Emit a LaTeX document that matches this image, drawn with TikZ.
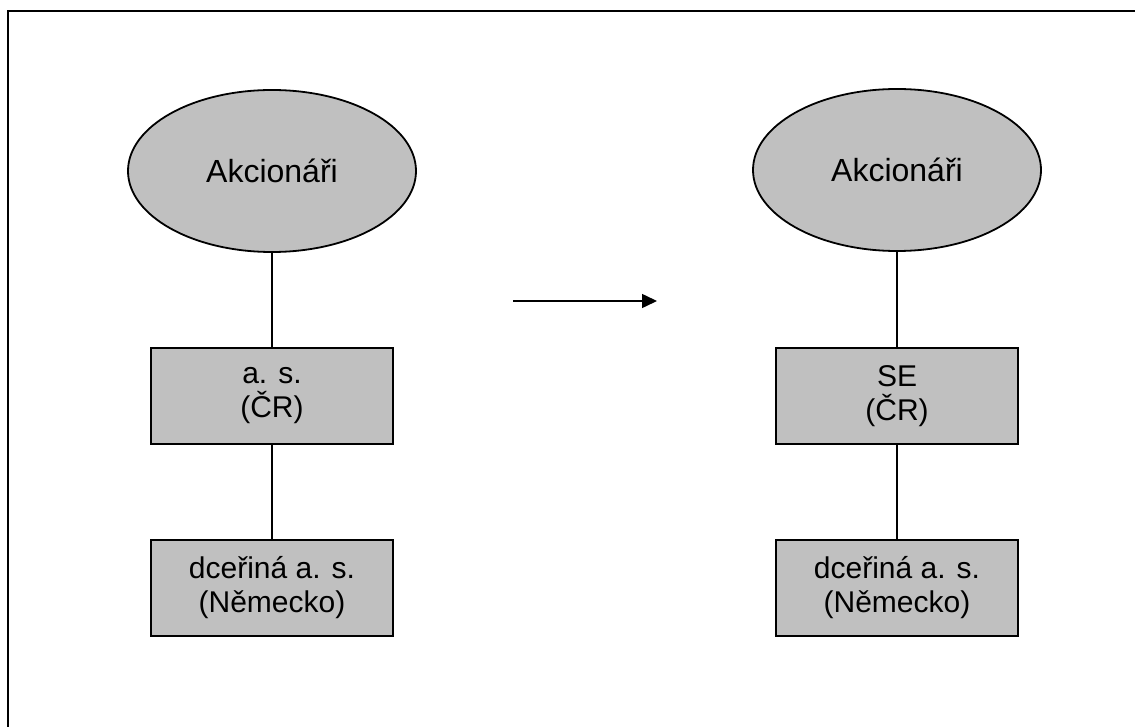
\documentclass[tikz,border=0pt]{standalone}
\usepackage{fontspec}
\setmainfont{Liberation Sans}
\usetikzlibrary{shapes.geometric,arrows.meta}
\definecolor{boxgray}{RGB}{192,192,192}
\tikzset{
    owner/.style={ellipse, draw, fill=boxgray, line width=0.9pt, minimum width=144pt, minimum height=81pt, inner sep=0pt, font=\fontsize{16}{19}\selectfont},
    firm/.style={rectangle, draw, fill=boxgray, line width=0.9pt, minimum width=121pt, minimum height=48pt, inner sep=0pt, align=center, font=\fontsize{15}{17}\selectfont},
    link/.style={line width=0.75pt}
}
\begin{document}
\begin{tikzpicture}[x=0.5pt, y=-0.5pt]
    \useasboundingbox (0,0) rectangle (1135,727);
    % frame
    \draw[line width=1pt] (8,727) -- (8,11) -- (1135,11);
    % before
    \node[owner] (akc1) at (272,171) {Akcionáři};
    \node[firm] (as1) at (272,396) {a. s.\\(ČR)};
    \node[firm] (dcera1) at (272,588) {dceřiná a. s.\\(Německo)};
    \draw[link] (akc1) -- (as1);
    \draw[link] (as1) -- (dcera1);
    % after
    \node[owner] (akc2) at (897,170) {Akcionáři};
    \node[firm] (se2) at (897,396) {SE\\(ČR)};
    \node[firm] (dcera2) at (897,588) {dceřiná a. s.\\(Německo)};
    \draw[link] (akc2) -- (se2);
    \draw[link] (se2) -- (dcera2);
    % arrow
    \coordinate (from) at (513,301);
    \coordinate (to) at (657,301);
    \draw[link, -{Triangle[length=7.5pt, width=7pt]}] (from) -- (to);
\end{tikzpicture}
\end{document}
